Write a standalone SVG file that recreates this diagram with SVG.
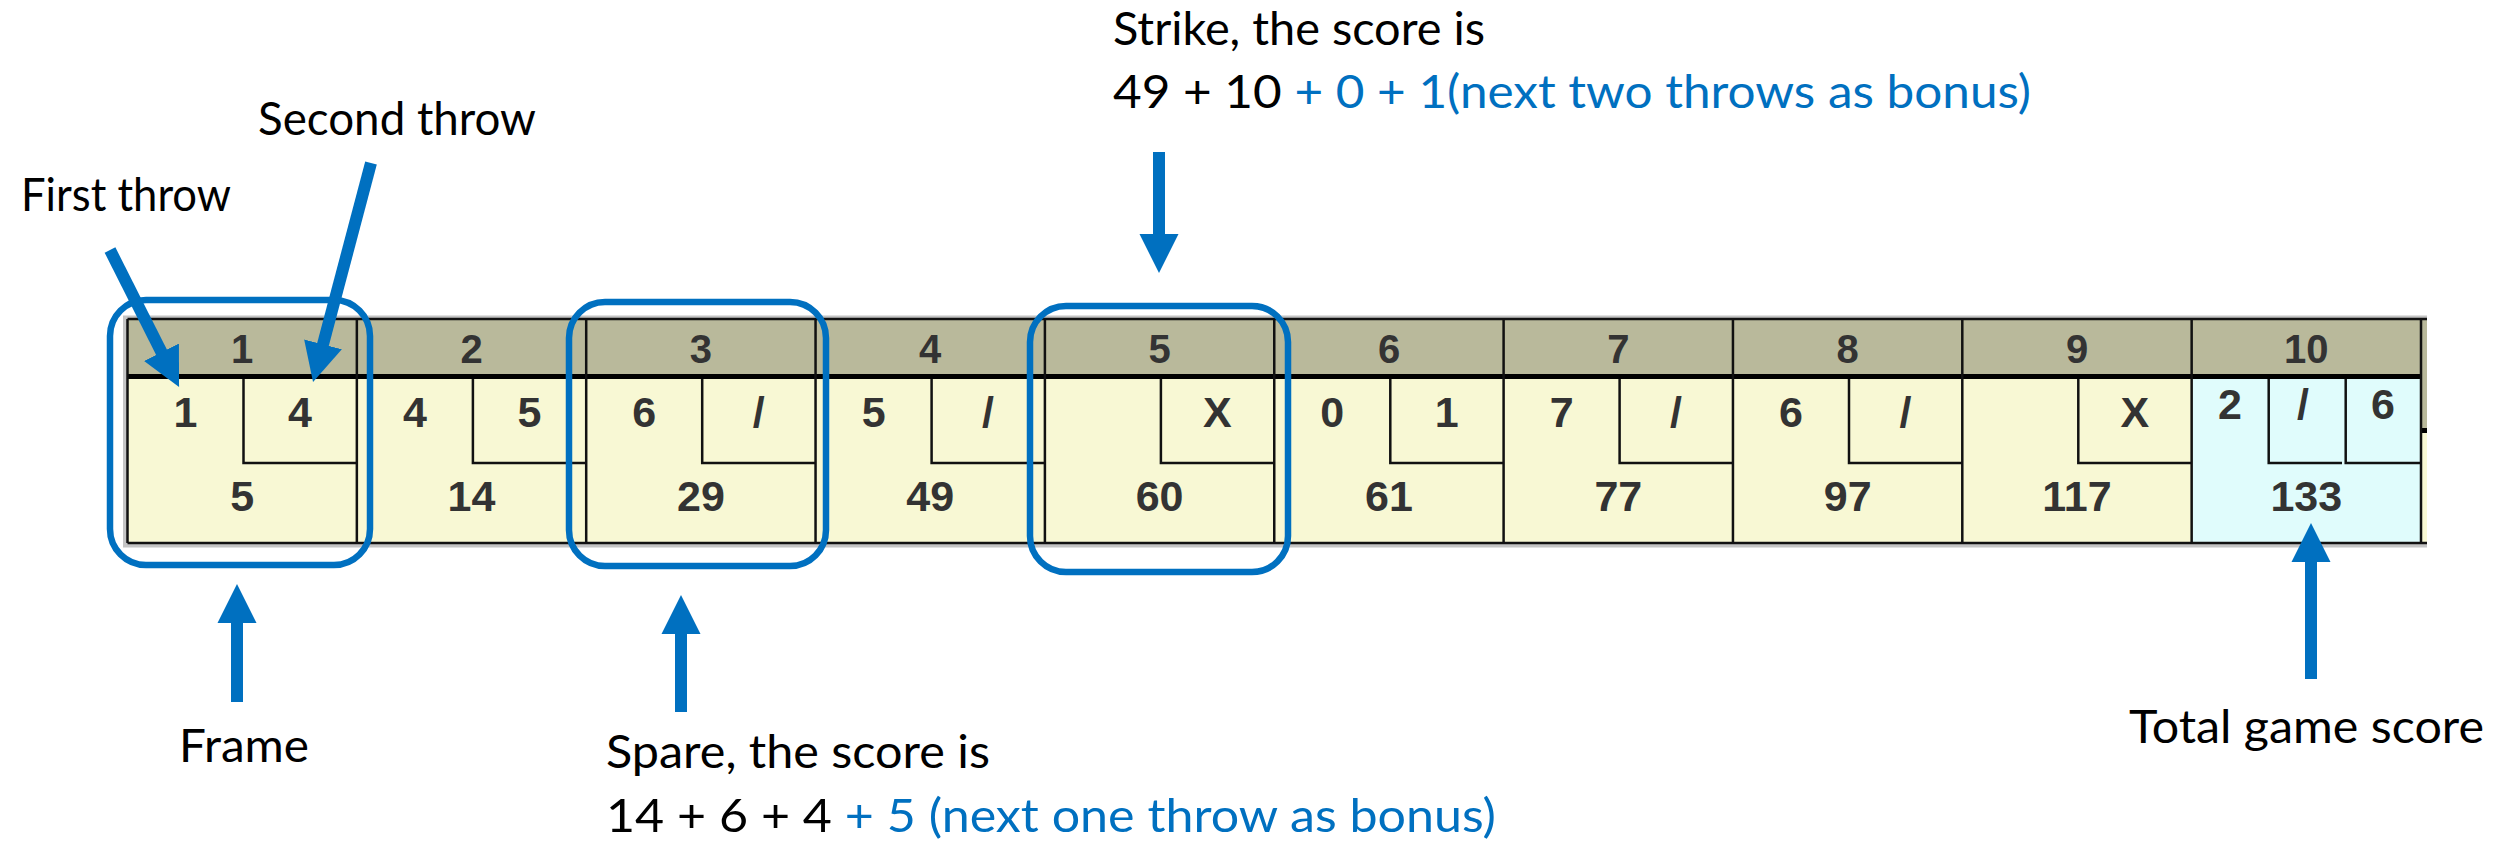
<svg xmlns="http://www.w3.org/2000/svg" width="2496" height="844" viewBox="0 0 2496 844">
<style>
.hdr{fill:#b9b99b}
.body{fill:#f8f8d4}
.body10{fill:#e0fcfc}
.ln{stroke:#111;stroke-width:2.5;fill:none}
.thick{stroke:#000;stroke-width:5}
.num{font-family:"Liberation Sans",Arial,sans-serif;font-weight:bold;fill:#333;text-anchor:middle}
.h{font-size:40px}
.t{font-size:43px}
.lbl{font-family:Lato,"Open Sans",sans-serif;font-size:46px;fill:#000}
.blue{fill:#0070c0}
.hl{fill:none;stroke:#0070c0;stroke-width:6.5}
.arr{stroke:#0070c0;stroke-width:12;fill:none;stroke-linecap:butt}
</style>
<defs>
<marker id="ah" markerUnits="userSpaceOnUse" viewBox="0 -20 40 40" refX="2" refY="0" markerWidth="40" markerHeight="40" orient="auto">
<path d="M0,-19.5 L39,0 L0,19.5 Z" fill="#0070c0"/>
</marker>
</defs>
<rect width="2496" height="844" fill="#fff"/>
<g id="table">
<rect x="123" y="315.5" width="2304" height="232" fill="#c4c4c4"/>
<rect x="2421" y="319" width="6" height="109" class="hdr"/>
<rect x="2421" y="428" width="6" height="5" fill="#000"/>
<rect x="2421" y="433" width="6" height="110" class="body"/>
</g>
<g id="frame-1">
<rect x="127.5" y="319" width="229.35" height="57.5" class="hdr"/><rect x="127.5" y="376.5" width="229.35" height="166.5" class="body"/>
<line x1="127.5" y1="376.5" x2="356.85" y2="376.5" class="thick"/>
<path d="M243.5,379 V463 H356.85" class="ln"/>
<text x="242.2" y="363" class="num h">1</text><text x="185.5" y="427" class="num t">1</text><text x="300" y="427" class="num t">4</text><text x="242.2" y="511" class="num t">5</text>
</g>
<g id="frame-2">
<rect x="356.85" y="319" width="229.35" height="57.5" class="hdr"/><rect x="356.85" y="376.5" width="229.35" height="166.5" class="body"/>
<line x1="356.85" y1="376.5" x2="586.2" y2="376.5" class="thick"/>
<path d="M472.9,379 V463 H586.2" class="ln"/>
<text x="471.5" y="363" class="num h">2</text><text x="414.9" y="427" class="num t">4</text><text x="529.4" y="427" class="num t">5</text><text x="471.5" y="511" class="num t">14</text>
</g>
<g id="frame-3">
<rect x="586.2" y="319" width="229.35" height="57.5" class="hdr"/><rect x="586.2" y="376.5" width="229.35" height="166.5" class="body"/>
<line x1="586.2" y1="376.5" x2="815.55" y2="376.5" class="thick"/>
<path d="M702.2,379 V463 H815.55" class="ln"/>
<text x="700.9" y="363" class="num h">3</text><text x="644.2" y="427" class="num t">6</text><text x="758.7" y="427" class="num t">/</text><text x="700.9" y="511" class="num t">29</text>
</g>
<g id="frame-4">
<rect x="815.55" y="319" width="229.35" height="57.5" class="hdr"/><rect x="815.55" y="376.5" width="229.35" height="166.5" class="body"/>
<line x1="815.55" y1="376.5" x2="1044.9" y2="376.5" class="thick"/>
<path d="M931.6,379 V463 H1044.9" class="ln"/>
<text x="930.2" y="363" class="num h">4</text><text x="873.6" y="427" class="num t">5</text><text x="988.1" y="427" class="num t">/</text><text x="930.2" y="511" class="num t">49</text>
</g>
<g id="frame-5">
<rect x="1044.9" y="319" width="229.35" height="57.5" class="hdr"/><rect x="1044.9" y="376.5" width="229.35" height="166.5" class="body"/>
<line x1="1044.9" y1="376.5" x2="1274.25" y2="376.5" class="thick"/>
<path d="M1160.9,379 V463 H1274.25" class="ln"/>
<text x="1159.6" y="363" class="num h">5</text><text x="1217.4" y="427" class="num t">X</text><text x="1159.6" y="511" class="num t">60</text>
</g>
<g id="frame-6">
<rect x="1274.25" y="319" width="229.35" height="57.5" class="hdr"/><rect x="1274.25" y="376.5" width="229.35" height="166.5" class="body"/>
<line x1="1274.25" y1="376.5" x2="1503.6" y2="376.5" class="thick"/>
<path d="M1390.3,379 V463 H1503.6" class="ln"/>
<text x="1389" y="363" class="num h">6</text><text x="1332.3" y="427" class="num t">0</text><text x="1446.8" y="427" class="num t">1</text><text x="1389" y="511" class="num t">61</text>
</g>
<g id="frame-7">
<rect x="1503.6" y="319" width="229.35" height="57.5" class="hdr"/><rect x="1503.6" y="376.5" width="229.35" height="166.5" class="body"/>
<line x1="1503.6" y1="376.5" x2="1732.95" y2="376.5" class="thick"/>
<path d="M1619.6,379 V463 H1732.95" class="ln"/>
<text x="1618.3" y="363" class="num h">7</text><text x="1561.6" y="427" class="num t">7</text><text x="1676.1" y="427" class="num t">/</text><text x="1618.3" y="511" class="num t">77</text>
</g>
<g id="frame-8">
<rect x="1732.95" y="319" width="229.35" height="57.5" class="hdr"/><rect x="1732.95" y="376.5" width="229.35" height="166.5" class="body"/>
<line x1="1732.95" y1="376.5" x2="1962.3" y2="376.5" class="thick"/>
<path d="M1849,379 V463 H1962.3" class="ln"/>
<text x="1847.7" y="363" class="num h">8</text><text x="1791" y="427" class="num t">6</text><text x="1905.5" y="427" class="num t">/</text><text x="1847.7" y="511" class="num t">97</text>
</g>
<g id="frame-9">
<rect x="1962.3" y="319" width="229.35" height="57.5" class="hdr"/><rect x="1962.3" y="376.5" width="229.35" height="166.5" class="body"/>
<line x1="1962.3" y1="376.5" x2="2191.65" y2="376.5" class="thick"/>
<path d="M2078.3,379 V463 H2191.65" class="ln"/>
<text x="2077" y="363" class="num h">9</text><text x="2134.8" y="427" class="num t">X</text><text x="2077" y="511" class="num t">117</text>
</g>
<g id="frame-10">
<rect x="2191.65" y="319" width="229.35" height="57.5" class="hdr"/><rect x="2191.65" y="376.5" width="229.35" height="166.5" class="body10"/>
<line x1="2191.65" y1="376.5" x2="2421" y2="376.5" class="thick"/>
<path d="M2268.7,379 V463 H2342" class="ln"/>
<path d="M2345.7,379 V463 H2421" class="ln"/>
<text x="2306.3" y="363" class="num h">10</text><text x="2230" y="419" class="num t">2</text><text x="2303" y="419" class="num t">/</text><text x="2383" y="419" class="num t">6</text><text x="2306.3" y="511" class="num t">133</text>
</g>
<g id="table-lines">
<path d="M127.5,319 H2427 M127.5,543 H2427 M127.5,319 V543" class="ln"/>
<path d="M356.85,319 V543 M586.2,319 V543 M815.55,319 V543 M1044.9,319 V543 M1274.25,319 V543 M1503.6,319 V543 M1732.95,319 V543 M1962.3,319 V543 M2191.65,319 V543 M2421,319 V543" class="ln"/>
</g>
<g id="highlights">
<rect id="hl-frame" x="110" y="300" width="260" height="265" rx="36" class="hl"/>
<rect id="hl-spare" x="569" y="302" width="257" height="264" rx="36" class="hl"/>
<rect id="hl-strike" x="1030" y="306" width="258" height="266" rx="36" class="hl"/>
</g>
<g id="connectors">
<line x1="110" y1="250" x2="162.4" y2="354" class="arr" marker-end="url(#ah)"/>
<line x1="371" y1="163" x2="322.5" y2="346.3" class="arr" marker-end="url(#ah)"/>
<line x1="1159" y1="152" x2="1159" y2="236" class="arr" marker-end="url(#ah)"/>
<line x1="237" y1="702" x2="237" y2="621" class="arr" marker-end="url(#ah)"/>
<line x1="681" y1="712" x2="681" y2="632" class="arr" marker-end="url(#ah)"/>
<line x1="2311" y1="679" x2="2311" y2="560" class="arr" marker-end="url(#ah)"/>
</g>
<g id="label-first"><text x="21" y="211" class="lbl" textLength="210" lengthAdjust="spacingAndGlyphs">First throw</text></g>
<g id="label-second"><text x="258" y="135" class="lbl" textLength="278" lengthAdjust="spacingAndGlyphs">Second throw</text></g>
<g id="label-strike">
<text x="1113" y="45" class="lbl" textLength="372" lengthAdjust="spacingAndGlyphs">Strike, the score is</text>
<text x="1113" y="108" class="lbl" textLength="918" lengthAdjust="spacingAndGlyphs">49 + 10 <tspan class="blue">+ 0 + 1(next two throws as bonus)</tspan></text>
</g>
<g id="label-frame"><text x="179" y="762" class="lbl" textLength="130" lengthAdjust="spacingAndGlyphs">Frame</text></g>
<g id="label-spare">
<text x="606" y="768" class="lbl" textLength="384" lengthAdjust="spacingAndGlyphs">Spare, the score is</text>
<text x="606" y="832" class="lbl" textLength="890" lengthAdjust="spacingAndGlyphs">14 + 6 + 4 <tspan class="blue">+ 5 (next one throw as bonus)</tspan></text>
</g>
<g id="label-total"><text x="2129" y="743" class="lbl" textLength="355" lengthAdjust="spacingAndGlyphs">Total game score</text></g>
</svg>
